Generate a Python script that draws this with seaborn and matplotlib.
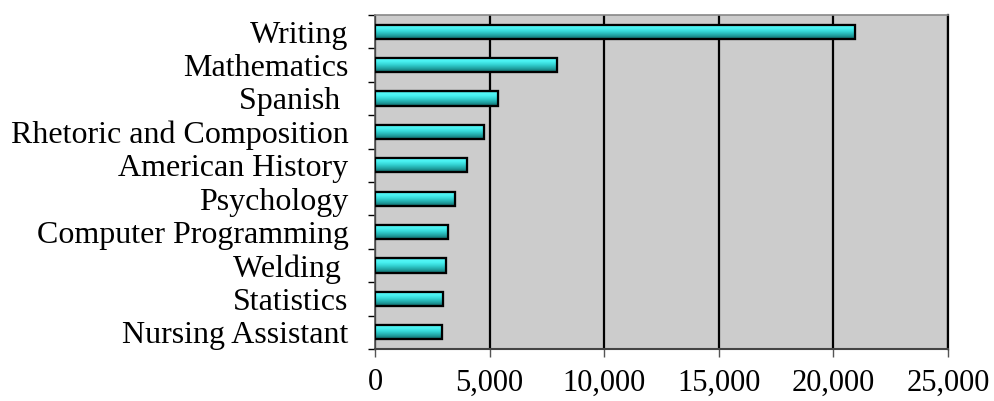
import matplotlib
matplotlib.use('Agg')
import matplotlib.pyplot as plt
import seaborn as sns
import numpy as np
import pandas as pd
from matplotlib.colors import LinearSegmentedColormap
from matplotlib.patches import Rectangle
from matplotlib.ticker import FixedLocator, FuncFormatter

subjects = ["Writing", "Mathematics", "Spanish ", "Rhetoric and Composition",
            "American History", "Psychology", "Computer Programming",
            "Welding ", "Statistics", "Nursing Assistant"]
enrollments = [20950, 7930, 5350, 4750, 4010, 3470, 3170, 3080, 2980, 2910]
x_ticks = [0, 5000, 10000, 15000, 20000, 25000]

sns.set_theme(style='white')
plt.rcParams['font.family'] = ['Liberation Serif', 'DejaVu Serif']

fig = plt.figure(figsize=(9.95, 4.01), dpi=100)
ax = fig.add_axes([375/995, 1-349/401, (948-375)/995, (349-15)/401])
ax.set_facecolor('#cccccc')

df = pd.DataFrame({'subject': subjects, 'value': enrollments})
sns.barplot(data=df, y='subject', x='value', orient='h', width=0.42,
            color='#33dddd', edgecolor='black', linewidth=1.5, ax=ax,
            zorder=3, saturation=1)

cmap = LinearSegmentedColormap.from_list('cyl', [
    (0.0, '#1f8f8f'), (0.12, '#55f6f6'), (0.3, '#48f0f0'),
    (0.55, '#30cccc'), (0.8, '#1e9a9a'), (1.0, '#0f6060')])
grad = np.linspace(0, 1, 64).reshape(-1, 1)
xlim = (0, 25000)
ylim = ax.get_ylim()
for p in list(ax.patches):
    x0, y0 = p.get_x(), p.get_y()
    w, h = p.get_width(), p.get_height()
    im = ax.imshow(grad, aspect='auto', cmap=cmap, origin='upper',
                   extent=[x0, x0 + w, y0 + h, y0], zorder=3.5,
                   interpolation='bilinear')
    im.set_clip_path(p)
    ax.add_patch(Rectangle((x0, y0), w, h, fill=False, edgecolor='black',
                           linewidth=1.6, zorder=4))
ax.set_xlim(*xlim)
ax.set_ylim(ylim)

ax.set_xticks(x_ticks)
ax.xaxis.set_major_formatter(FuncFormatter(lambda v, pos: f"{int(v):,}"))
ax.set_xlabel('')
ax.set_ylabel('')

ax.grid(axis='x', color='black', linewidth=1.6, zorder=1)
ax.grid(axis='y', visible=False)
ax.set_axisbelow(True)

ax.tick_params(axis='y', which='major', length=0, pad=19, labelsize=23,
               labelcolor='black')
ax.yaxis.set_minor_locator(FixedLocator(np.arange(-0.5, len(subjects), 1)))
ax.tick_params(axis='y', which='minor', length=5, width=1, color='black',
               direction='out', left=True)
ax.tick_params(axis='x', which='major', length=6, width=1, color='#555555',
               direction='out', pad=8, labelsize=22, labelcolor='black',
               bottom=True)

ax.spines['top'].set_color('#888888')
ax.spines['top'].set_linewidth(1.2)
ax.spines['left'].set_color('#555555')
ax.spines['left'].set_linewidth(1.2)
ax.spines['bottom'].set_color('#444444')
ax.spines['bottom'].set_linewidth(1.5)
ax.spines['right'].set_color('black')
ax.spines['right'].set_linewidth(1.6)

fig.savefig('out.png', dpi=100)
